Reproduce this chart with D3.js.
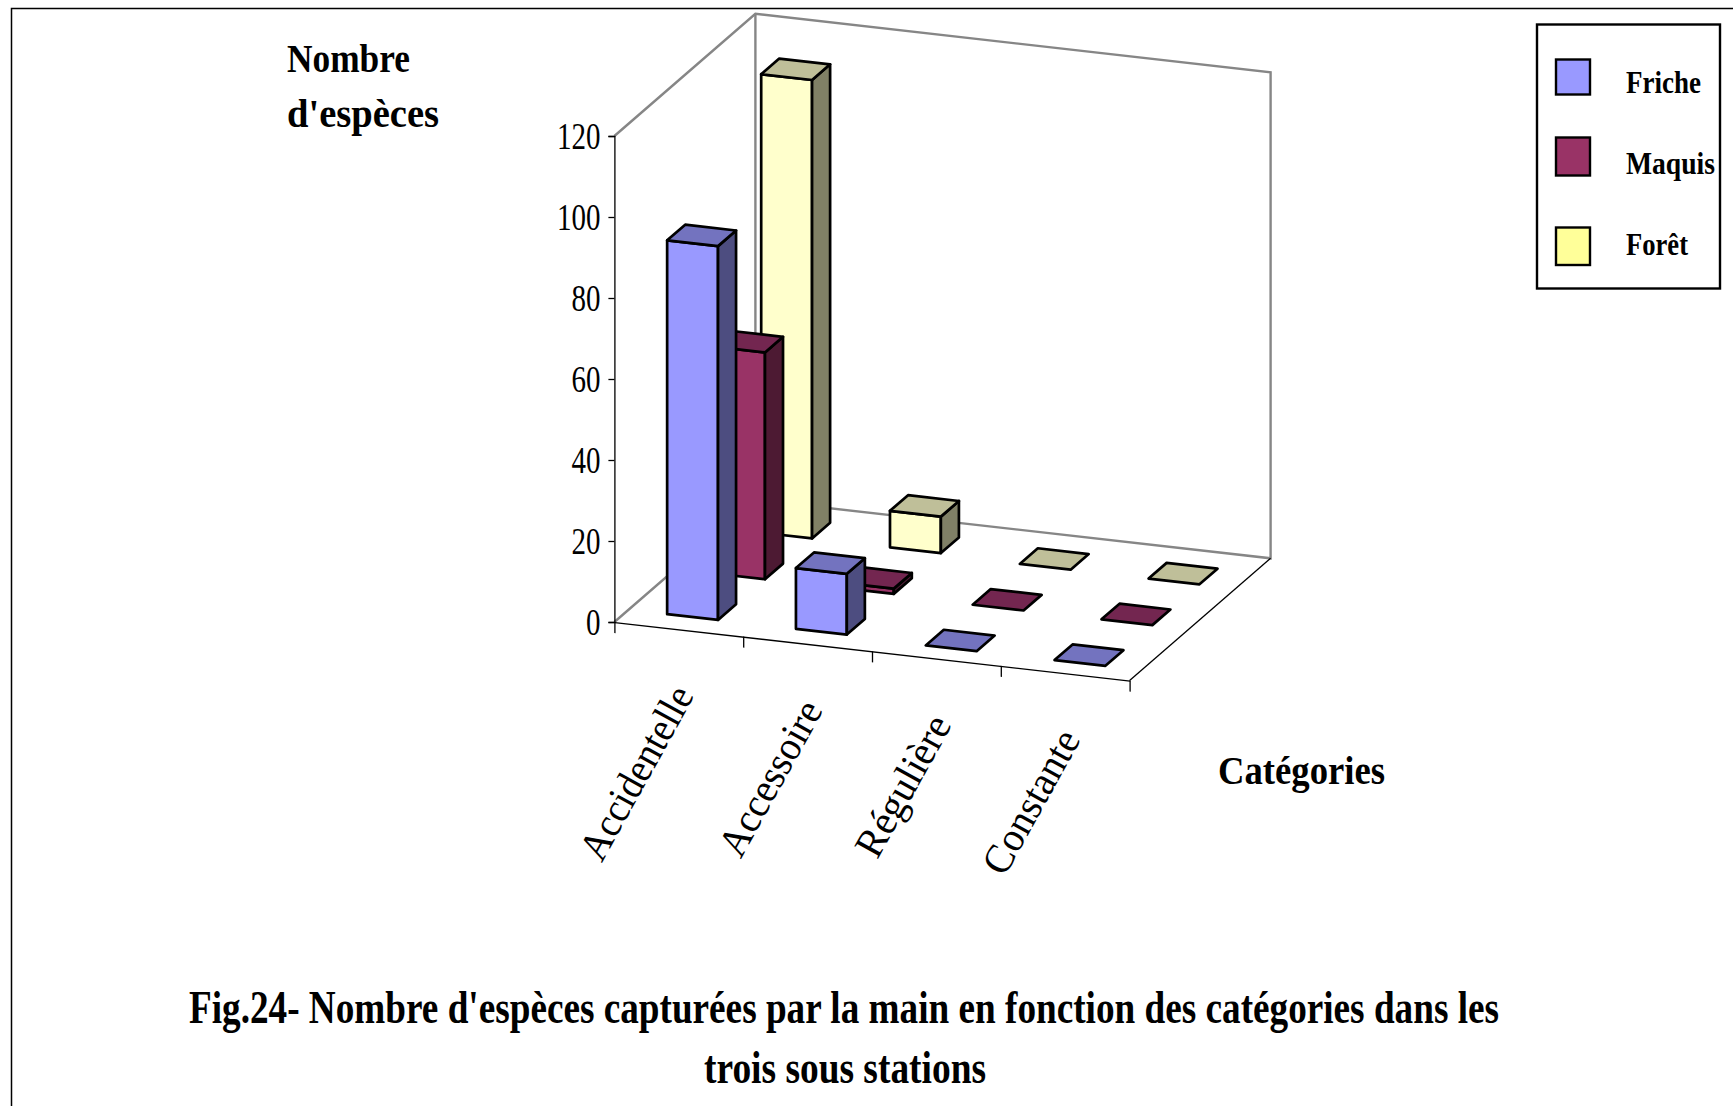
<!DOCTYPE html>
<html><head><meta charset="utf-8">
<script src="https://cdnjs.cloudflare.com/ajax/libs/d3/7.8.5/d3.min.js"></script>
<style>html,body{margin:0;padding:0;background:#fff;overflow:hidden}svg{display:block}text{font-family:"Liberation Serif",serif;fill:#000}</style>
</head><body><svg id="c" width="1733" height="1106"></svg>
<script>
const categories = ["Accidentelle","Accessoire","Régulière","Constante"];
const seriesNames = ["Friche","Maquis","Forêt"];
const friche = [92.3,15,0,0];
const maquis = [56,1.3,0,0];
const foret  = [113.2,9,0,0];
const yTicks = [0,20,40,60,80,100,120];
const seriesValues = [friche,maquis,foret];
const frontColors = ["#9999FF","#993366","#FFFFCC"];
const topColors   = ["#7373BF","#732650","#BFBF99"];
const sideColors  = ["#4D4D80","#4D1A33","#808066"];
const legendColors= ["#9999FF","#993366","#FFFF99"];

const svg = d3.select("#c");
const catX = d3.scaleLinear().domain([0,4]).range([614.4,1129.6]);
const catDY = d3.scaleLinear().domain([0,4]).range([0,58.5]);
const depX = d3.scaleLinear().domain([0,1]).range([0,141]);
const depY = d3.scaleLinear().domain([0,1]).range([0,-122.2]);
const valY = d3.scaleLinear().domain([0,120]).range([622,136]);
const P = (u,v,w)=>[catX(u)+depX(v), valY(w)+catDY(u)+depY(v)];
const line = d3.line();

// walls
const wall = svg.append("g").attr("fill","none").attr("stroke","#868686").attr("stroke-width",2.4);
[[[0,1,0],[0,1,120]],
 [[0,0,120],[0,1,120],[4,1,120],[4,1,0],[0,1,0],[0,0,0]]].forEach(pts=>{
  wall.append("path").attr("d",line(pts.map(p=>P(...p))));
});
// floor right edge
svg.append("path").attr("d",line([P(4,0,0),P(4,1,0)])).attr("stroke","#000").attr("stroke-width",1.3).attr("fill","none");

// axes
const yAxis = d3.axisLeft(valY).tickValues(yTicks).tickSize(6).tickPadding(8).tickFormat(d3.format("d"));
const yg = svg.append("g").attr("transform","translate(614.4,0)").call(yAxis);
yg.selectAll("path,line").attr("stroke","#000").attr("stroke-width",1.3);
yg.selectAll("text").attr("font-size",38).attr("font-family",'"Liberation Serif",serif')
  .attr("textLength",d=>String(d).length*14.5).attr("lengthAdjust","spacingAndGlyphs");

const uScale = d3.scaleLinear().domain([0,4]).range([0,catX(4)-catX(0)]);
const skew = Math.atan2(catDY(4),catX(4)-catX(0))*180/Math.PI;
const xg = svg.append("g").attr("transform",`translate(${catX(0)},${valY(0)}) skewY(${skew})`)
  .call(d3.axisBottom(uScale).tickValues([0,1,2,3,4]).tickSize(11).tickSizeOuter(0).tickFormat(""));
xg.selectAll("path,line").attr("stroke","#000").attr("stroke-width",1.3);

// bars
const barStart=.30, barW=.395, barD=.128, rowOffset=[.10,.433,.767], flatDrop=2;
const bars = svg.append("g").attr("stroke","#000").attr("stroke-width",2.7).attr("stroke-linejoin","round");
[2,1,0].forEach(s=>{
  categories.forEach((c,i)=>{
    const val=seriesValues[s][i], u0=i+barStart, u1=u0+barW, v0=rowOffset[s], v1=v0+barD;
    const g=bars.append("g");
    const poly=(pts,fill)=>g.append("path").attr("d",line(pts)+"Z").attr("fill",fill);
    if(val>0){
      poly([P(u0,v0,0),P(u1,v0,0),P(u1,v0,val),P(u0,v0,val)],frontColors[s]);
      poly([P(u1,v0,0),P(u1,v1,0),P(u1,v1,val),P(u1,v0,val)],sideColors[s]);
    } else {
      g.attr("transform",`translate(1,${flatDrop})`);
    }
    poly([P(u0,v0,val),P(u1,v0,val),P(u1,v1,val),P(u0,v1,val)],topColors[s]);
  });
});

// helper: text fitted to a width
function label(txt,x,y,size,w,bold,anchor){
  return svg.append("text").attr("x",x).attr("y",y).attr("font-size",size)
    .attr("font-weight",bold?"bold":"normal").attr("text-anchor",anchor||"start")
    .attr("textLength",w).attr("lengthAdjust","spacingAndGlyphs").text(txt);
}
// category labels
const catLen=[192,171,155,158];
categories.forEach((c,i)=>{
  const p=P(i+.5,0,0), x=p[0]+16, y=p[1]+66;
  svg.append("text").attr("transform",`translate(${x},${y}) rotate(-61)`)
    .attr("font-size",41).attr("text-anchor","end")
    .attr("textLength",catLen[i]).attr("lengthAdjust","spacingAndGlyphs").text(c);
});
// axis titles
label("Nombre",287,72,41,123,true);
label("d'espèces",287,127,41,152,true);
label("Catégories",1218,784,41,167,true);

// legend
const lg=svg.append("g");
lg.append("rect").attr("x",1537).attr("y",24.5).attr("width",183).attr("height",264)
  .attr("fill","#fff").attr("stroke","#000").attr("stroke-width",2.4);
const swY=[59.5,137.5,227.5], swH=[35,38,37.5], lgBase=[92.7,174,255], lgW=[75,89,62];
seriesNames.forEach((n,i)=>{
  lg.append("rect").attr("x",1556).attr("y",swY[i]).attr("width",34).attr("height",swH[i])
    .attr("fill",legendColors[i]).attr("stroke","#000").attr("stroke-width",2.4);
  label(n,1626,lgBase[i],32,lgW[i],true);
});

// title
label("Fig.24- Nombre d'espèces capturées par la main en fonction des catégories dans les",189,1023,46,1310,true);
label("trois sous stations",704,1083,46,282,true);

// frame
svg.append("path").attr("d","M11.5,1106V8.5H1733").attr("fill","none").attr("stroke","#000").attr("stroke-width",1.5);
</script></body></html>
